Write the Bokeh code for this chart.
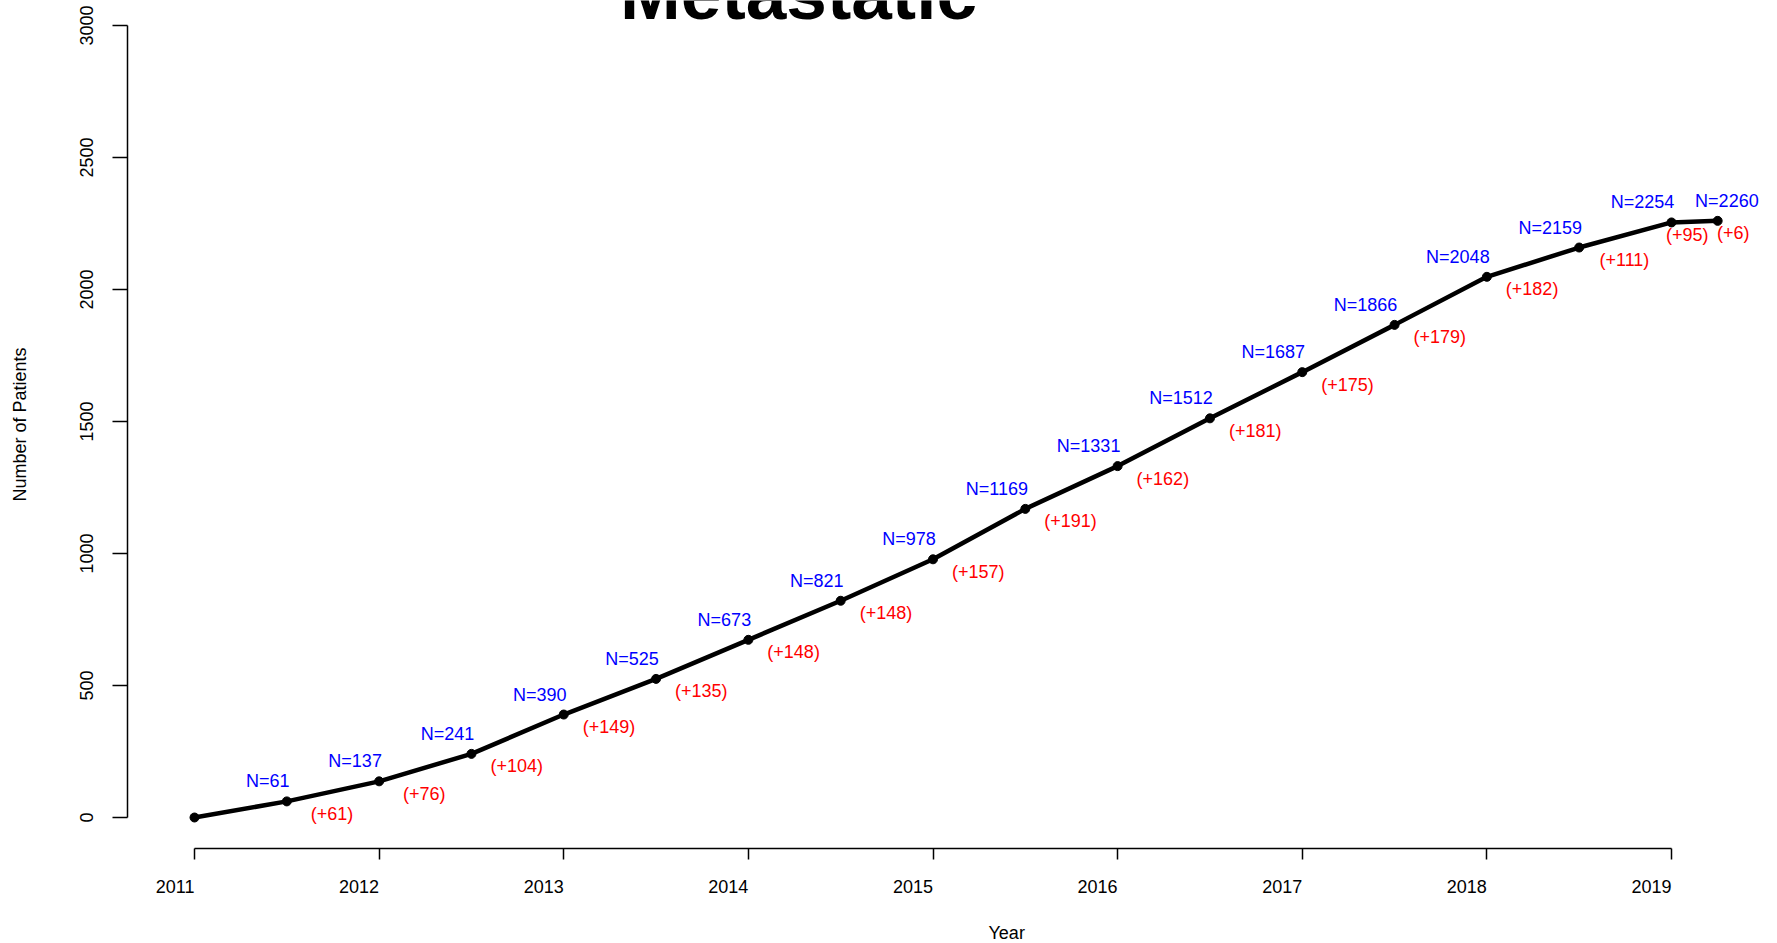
from bokeh.plotting import figure
from bokeh.models import Label, FixedTicker, Range1d, Title, LinearAxis
from bokeh.embed import file_html
from bokeh.resources import INLINE
from bokeh.core.properties import value

# ---------------- data ----------------
years = [2011.0, 2011.5, 2012.0, 2012.5, 2013.0, 2013.5, 2014.0, 2014.5, 2015.0,
         2015.5, 2016.0, 2016.5, 2017.0, 2017.5, 2018.0, 2018.5, 2019.0, 2019.25]
patients = [0, 61, 137, 241, 390, 525, 673, 821, 978, 1169, 1331, 1512, 1687,
            1866, 2048, 2159, 2254, 2260]
added = [61, 76, 104, 149, 135, 148, 148, 157, 191, 162, 181, 175, 179, 182,
         111, 95, 6]
x_ticks = [2011, 2012, 2013, 2014, 2015, 2016, 2017, 2018, 2019]
y_ticks = [0, 500, 1000, 1500, 2000, 2500, 3000]
title_text = "Metastatic"
x_title = "Year"
y_title = "Number of Patients"

# ---------------- geometry (canvas px) ----------------
FONT = "Liberation Sans"
FS = "18px"
W, H = 1777, 943
LEFT, BOTTOM = 127, 95
PX_X0 = 194.0          # canvas x of first x tick
PX_PER_YEAR = 184.625
PX_Y0 = 817.0          # canvas y of value 0
PX_PER_UNIT = 0.264


def xd(px):
    return x_ticks[0] + (px - PX_X0) / PX_PER_YEAR


def yd(py):
    return (PX_Y0 - py) / PX_PER_UNIT


p = figure(width=W, height=H, output_backend="svg", toolbar_location=None,
           title=None,
           x_range=Range1d(xd(LEFT), xd(W)), y_range=Range1d(yd(H - BOTTOM), yd(0)),
           min_border_left=LEFT, min_border_right=0, min_border_top=0,
           min_border_bottom=BOTTOM)
p.outline_line_color = None
p.grid.visible = False
p.background_fill_color = "white"
p.border_fill_color = "white"

# axes
xa = p.xaxis[0]
xa.ticker = FixedTicker(ticks=x_ticks)
xa.bounds = (x_ticks[0], x_ticks[-1])
xa.major_tick_out = 11
xa.major_tick_in = 0
xa.minor_tick_out = 0
xa.minor_tick_in = 0
xa.axis_line_width = 1.5
xa.major_tick_line_width = 1.5
xa.major_label_orientation = 0.0001
xa.major_label_standoff = 27
xa.major_label_text_font = FONT
xa.major_label_text_font_size = FS
xa.major_label_text_color = "black"

ya = p.yaxis[0]
ya.ticker = FixedTicker(ticks=y_ticks)
ya.bounds = (y_ticks[0], y_ticks[-1])
ya.major_tick_out = 15
ya.major_tick_in = 0
ya.minor_tick_out = 0
ya.minor_tick_in = 0
ya.axis_line_width = 1.5
ya.major_tick_line_width = 1.5
ya.major_label_orientation = "vertical"
ya.major_label_standoff = 20
ya.major_label_text_font = FONT
ya.major_label_text_font_size = FS
ya.major_label_text_color = "black"
ya.axis_label = y_title
ya.axis_label_standoff = 47
ya.axis_label_text_font = FONT
ya.axis_label_text_font_size = FS
ya.axis_label_text_font_style = "normal"
ya.axis_label_text_color = "black"

# invisible spacer between the x axis and its title (white tick, empty label)
spacer = LinearAxis(ticker=FixedTicker(ticks=[x_ticks[0]]), axis_line_color=None,
                    major_tick_out=18, major_tick_in=0, minor_tick_out=0,
                    minor_tick_in=0, major_label_standoff=0, axis_label_standoff=0,
                    major_tick_line_color="white", minor_tick_line_color=None,
                    major_label_overrides={x_ticks[0]: ""},
                    major_label_text_font_size="1px")
p.add_layout(spacer, "below")

# x title
p.add_layout(Title(text=x_title, align="left", offset=988 - LEFT, text_font=FONT,
                   text_font_size=FS, text_font_style="normal", text_color="black",
                   standoff=0), "below")

# line + points
p.line(years, patients, line_width=4.5, line_color="black")
p.scatter(years, patients, size=9, fill_color="black", line_color="black")

# blue N labels
n = len(years)
bx = [years[i] + 0.015 for i in range(1, n - 1)]
p.text(x=bx, y=patients[1:n - 1], text=[f"N={v}" for v in patients[1:n - 1]],
       text_align="right", text_baseline="middle", y_offset=-20,
       text_color="#0000FF", text_font=value(FONT), text_font_size=FS)
p.text(x=[years[-1] + 0.05], y=[patients[-1]], text=[f"N={patients[-1]}"],
       text_align="center", text_baseline="middle", y_offset=-20,
       text_color="#0000FF", text_font=value(FONT), text_font_size=FS)

# red increment labels
rx = []
for i in range(1, n):
    rx.append(years[i] + (0.245 if i < n - 2 else 0.085))
p.text(x=rx, y=patients[1:], text=[f"(+{a})" for a in added],
       text_align="center", text_baseline="middle", y_offset=12.5,
       text_color="#FF0000", text_font=value(FONT), text_font_size=FS)

# main title (cut by the top edge, as in the reference)
p.add_layout(Label(x=xd(798), y=yd(-7), text=title_text, text_align="center",
                   text_baseline="alphabetic", text_font=FONT,
                   text_font_size="73px", text_font_style="bold", text_color="black"))

open("out.html", "w").write(file_html(p, INLINE))
